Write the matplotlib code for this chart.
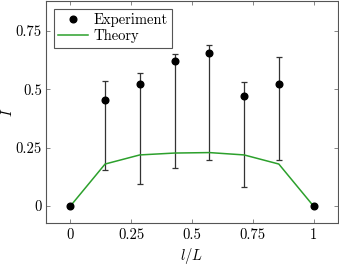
import matplotlib
matplotlib.use("Agg")
import matplotlib.pyplot as plt
import numpy as np

plt.rcParams['font.family'] = ['cmr10', 'DejaVu Serif']
plt.rcParams['mathtext.fontset'] = 'cm'
plt.rcParams['axes.formatter.use_mathtext'] = True

# data
x_pos = [0, 1/7, 2/7, 3/7, 4/7, 5/7, 6/7, 1]
experiment = [0, 0.455, 0.524, 0.622, 0.653, 0.472, 0.523, 0]
err_upper = [0, 0.533, 0.571, 0.651, 0.689, 0.531, 0.636, 0]
err_lower = [0, 0.153, 0.094, 0.163, 0.196, 0.081, 0.196, 0]
theory = [0, 0.180, 0.219, 0.227, 0.229, 0.219, 0.180, 0]
x_ticks = [0, 0.25, 0.5, 0.75, 1]
x_labels = ['0', '0.25', '0.5', '0.75', '1']
y_ticks = [0, 0.25, 0.5, 0.75]
y_labels = ['0', '0.25', '0.5', '0.75']

fig = plt.figure(figsize=(3.39, 2.68), dpi=100)
ax = fig.add_axes([0.1357, 0.168, 0.861, 0.829])

yerr = np.array([
    [e - lo for e, lo in zip(experiment, err_lower)],
    [hi - e for e, hi in zip(experiment, err_upper)],
])
ax.errorbar(x_pos[1:-1], experiment[1:-1], yerr=yerr[:, 1:-1], fmt='none',
            ecolor='#333333', elinewidth=0.9, capsize=2.5, capthick=0.9, zorder=2)
ax.plot(x_pos, theory, color='#2ca02c', lw=1.1, label='Theory', zorder=3)
ax.plot(x_pos, experiment, 'o', color='black', ms=4.8, label='Experiment', zorder=4)

ax.set_xlim(-0.1, 1.1)
ax.set_ylim(-0.072, 0.878)
ax.set_xticks(x_ticks)
ax.set_xticklabels(x_labels)
ax.set_yticks(y_ticks)
ax.set_yticklabels(y_labels)
ax.tick_params(direction='in', top=True, right=True, length=3, width=0.5,
               color='#555555', labelsize=10.5)
ax.tick_params(axis='x', pad=4)
ax.tick_params(axis='y', pad=3)
for s in ax.spines.values():
    s.set_color('#555555')
    s.set_linewidth(0.8)

ax.set_xlabel('$l/L$', fontsize=10.5, labelpad=3)
ax.set_ylabel('$I$', fontsize=10.5)
ax.yaxis.set_label_coords(-0.105, 0.5)

handles, labels = ax.get_legend_handles_labels()
leg = ax.legend(handles[::-1], labels[::-1], loc='upper left', fontsize=10.5,
                fancybox=False, edgecolor='#555555', framealpha=1,
                borderpad=0.3, labelspacing=0.15, handlelength=2.0,
                handletextpad=0.4, borderaxespad=0.55)
leg.get_frame().set_linewidth(0.8)

fig.savefig('out.png', dpi=100)
